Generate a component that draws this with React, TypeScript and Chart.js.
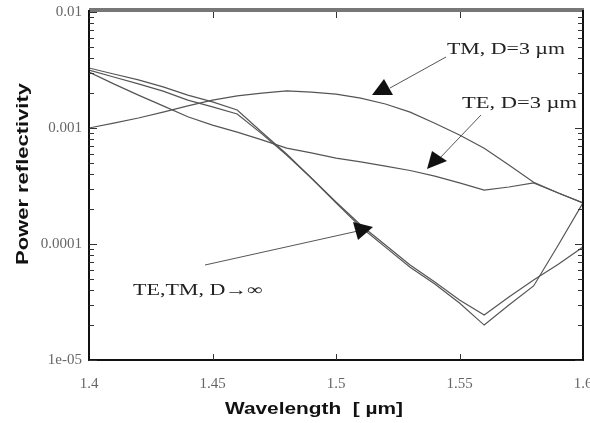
import React, { useEffect, useRef } from "react";
import { Chart, registerables } from "chart.js";
Chart.register(...registerables);

// Wavelength samples [µm]
const wavelengths = [1.40, 1.41, 1.42, 1.43, 1.44, 1.45, 1.46, 1.47, 1.48, 1.49, 1.50,
  1.51, 1.52, 1.53, 1.54, 1.55, 1.56, 1.57, 1.58, 1.59, 1.60];

// TM, D = 3 µm
const tmD3 = [1.0e-3, 1.10e-3, 1.22e-3, 1.37e-3, 1.55e-3, 1.74e-3, 1.89e-3, 2.0e-3, 2.09e-3, 2.04e-3, 1.96e-3,
  1.81e-3, 1.61e-3, 1.37e-3, 1.10e-3, 8.7e-4, 6.7e-4, 4.8e-4, 3.4e-4, 2.75e-4, 2.26e-4];

// TE, D = 3 µm
const teD3 = [3.04e-3, 2.40e-3, 1.92e-3, 1.55e-3, 1.25e-3, 1.06e-3, 9.2e-4, 7.9e-4, 6.7e-4, 6.1e-4, 5.5e-4,
  5.1e-4, 4.7e-4, 4.3e-4, 3.85e-4, 3.36e-4, 2.92e-4, 3.10e-4, 3.36e-4, 2.75e-4, 2.26e-4];

// TE, D -> infinity
const teInf = [3.29e-3, 2.92e-3, 2.60e-3, 2.26e-3, 1.92e-3, 1.68e-3, 1.43e-3, 9.2e-4, 5.97e-4, 3.71e-4, 2.26e-4,
  1.40e-4, 9.4e-5, 6.3e-5, 4.52e-5, 3.10e-5, 2.00e-5, 2.98e-5, 4.35e-5, 9.8e-5, 2.26e-4];

// TM, D -> infinity
const tmInf = [3.16e-3, 2.75e-3, 2.40e-3, 2.08e-3, 1.74e-3, 1.52e-3, 1.32e-3, 8.9e-4, 5.85e-4, 3.71e-4, 2.30e-4,
  1.46e-4, 9.8e-5, 6.6e-5, 4.70e-5, 3.29e-5, 2.44e-5, 3.49e-5, 4.90e-5, 6.7e-5, 9.4e-5];

const xTickValues = [1.4, 1.45, 1.5, 1.55, 1.6];
const xTickLabels = ["1.4", "1.45", "1.5", "1.55", "1.6"];
const yTickValues = [0.01, 0.001, 0.0001, 0.00001];
const yTickLabels = ["0.01", "0.001", "0.0001", "1e-05"];

const xTitle = "Wavelength  [ \u00b5m]";
const yTitle = "Power reflectivity";
const labelTM = "TM, D=3 \u00b5m";
const labelTE = "TE, D=3 \u00b5m";
const labelInf = "TE,TM, D\u2192\u221e";

const LINE = "#555";

function stretchedText(ctx: CanvasRenderingContext2D, text: string, x: number, y: number, width: number, font: string, color: string) {
  ctx.save();
  ctx.font = font;
  ctx.fillStyle = color;
  ctx.textBaseline = "alphabetic";
  ctx.textAlign = "left";
  const w = ctx.measureText(text).width;
  ctx.translate(x, y);
  ctx.scale(width / w, 1);
  ctx.fillText(text, 0, 0);
  ctx.restore();
}

const decorPlugin = {
  id: "decor",
  afterDraw(chart: any) {
    const ctx: CanvasRenderingContext2D = chart.ctx;
    const { left, right, top, bottom } = chart.chartArea;
    const ys = chart.scales.y;
    const xs = chart.scales.x;
    ctx.save();
    // frame
    ctx.fillStyle = "#777";
    ctx.fillRect(left, top - 4, right - left + 1, 4);
    ctx.strokeStyle = "#111";
    ctx.lineWidth = 2;
    ctx.beginPath();
    ctx.moveTo(left, top - 2);
    ctx.lineTo(left, bottom);
    ctx.lineTo(right, bottom);
    ctx.lineTo(right, top - 2);
    ctx.stroke();

    // log ticks, inward on both sides
    ctx.lineWidth = 1;
    ctx.strokeStyle = "#333";
    for (let e = -5; e <= -3; e++) {
      for (let k = 1; k <= 9; k++) {
        const v = k * Math.pow(10, e);
        const py = Math.round(ys.getPixelForValue(v)) + 0.5;
        const len = k === 1 ? 8 : 5;
        ctx.beginPath();
        ctx.moveTo(left, py);
        ctx.lineTo(left + len, py);
        ctx.moveTo(right, py);
        ctx.lineTo(right - len, py);
        ctx.stroke();
      }
    }
    const pTop = Math.round(ys.getPixelForValue(0.01)) + 0.5;
    ctx.beginPath();
    ctx.moveTo(left, pTop); ctx.lineTo(left + 8, pTop);
    ctx.stroke();
    // x ticks top & bottom
    for (const v of xTickValues.slice(1, -1)) {
      const px = Math.round(xs.getPixelForValue(v)) + 0.5;
      ctx.beginPath();
      ctx.moveTo(px, bottom);
      ctx.lineTo(px, bottom - 6);
      ctx.moveTo(px, top);
      ctx.lineTo(px, top + 6);
      ctx.stroke();
    }

    // annotation arrows
    ctx.strokeStyle = LINE;
    ctx.fillStyle = "#111";
    ctx.lineWidth = 1;
    const arrow = (x1: number, y1: number, x2: number, y2: number, tri: number[][]) => {
      ctx.beginPath();
      ctx.moveTo(x1, y1);
      ctx.lineTo(x2, y2);
      ctx.stroke();
      ctx.beginPath();
      ctx.moveTo(tri[0][0], tri[0][1]);
      ctx.lineTo(tri[1][0], tri[1][1]);
      ctx.lineTo(tri[2][0], tri[2][1]);
      ctx.closePath();
      ctx.fill();
    };
    arrow(446, 57, 390, 88, [[372, 95], [393, 95], [384, 79]]);
    arrow(481, 115, 438, 160, [[427, 169], [432, 151], [447, 161]]);
    arrow(205, 265, 358, 231, [[353, 222], [373, 227], [358, 240]]);

    // annotation text
    const serif = '16px "Liberation Serif", serif';
    stretchedText(ctx, labelTM, 447, 54, 118, serif, "#222");
    stretchedText(ctx, labelTE, 462, 108, 115, serif, "#222");
    stretchedText(ctx, labelInf, 133, 295, 130, serif, "#222");

    // axis titles
    const bold = 'bold 17px "Liberation Sans", Arial, sans-serif';
    stretchedText(ctx, xTitle, 225, 414, 178, bold, "#111");
    ctx.save();
    ctx.translate(28, 265);
    ctx.rotate(-Math.PI / 2);
    stretchedText(ctx, yTitle, 0, 0, 182, bold, "#111");
    ctx.restore();
    ctx.restore();
  },
};

export default function App() {
  const ref = useRef<HTMLCanvasElement | null>(null);
  useEffect(() => {
    document.body.style.margin = "0";
    const canvas = ref.current!;
    const mk = (arr: number[]) => wavelengths.map((x, i) => ({ x, y: arr[i] }));
    const ds = (label: string, arr: number[]) => ({
      label,
      data: mk(arr),
      borderColor: LINE,
      borderWidth: 1.2,
      pointRadius: 0,
      tension: 0,
      fill: false,
    });
    const chart = new Chart(canvas, {
      type: "line",
      data: {
        datasets: [
          ds("TM, D=3", tmD3),
          ds("TE, D=3", teD3),
          ds("TE, D=inf", teInf),
          ds("TM, D=inf", tmInf),
        ],
      },
      options: {
        animation: false,
        responsive: false,
        devicePixelRatio: 1,
        layout: { padding: { top: 12, right: 7, left: 0, bottom: 0 } },
        plugins: { legend: { display: false }, tooltip: { enabled: false } },
        scales: {
          x: {
            type: "linear",
            min: 1.4,
            max: 1.6,
            grid: { display: false, drawTicks: false },
            border: { display: false },
            afterBuildTicks: (s: any) => {
              s.ticks = xTickValues.map((v) => ({ value: v }));
            },
            afterFit: (s: any) => {
              s.height = 63;
              s.paddingLeft = 0;
              s.paddingRight = 0;
            },
            ticks: {
              autoSkip: false,
              maxRotation: 0,
              padding: 15,
              color: "#666",
              font: { family: '"Liberation Serif", serif', size: 15 },
              callback: (_v: any, i: number) => xTickLabels[i],
            },
          },
          y: {
            type: "logarithmic",
            min: 0.00001,
            max: 0.01,
            grid: { display: false, drawTicks: false },
            border: { display: false },
            afterBuildTicks: (s: any) => {
              s.ticks = yTickValues.map((v) => ({ value: v }));
            },
            afterFit: (s: any) => {
              s.width = 89;
              s.paddingTop = 0;
              s.paddingBottom = 0;
            },
            ticks: {
              autoSkip: false,
              padding: 7,
              color: "#666",
              font: { family: '"Liberation Serif", serif', size: 15 },
              callback: (_v: any, i: number) => yTickLabels[i],
            },
          },
        },
      },
      plugins: [decorPlugin],
    } as any);
    return () => chart.destroy();
  }, []);
  return (
    <div style={{ width: 590, height: 423, background: "#fff" }}>
      <canvas ref={ref} width={590} height={423} style={{ display: "block" }} />
    </div>
  );
}
